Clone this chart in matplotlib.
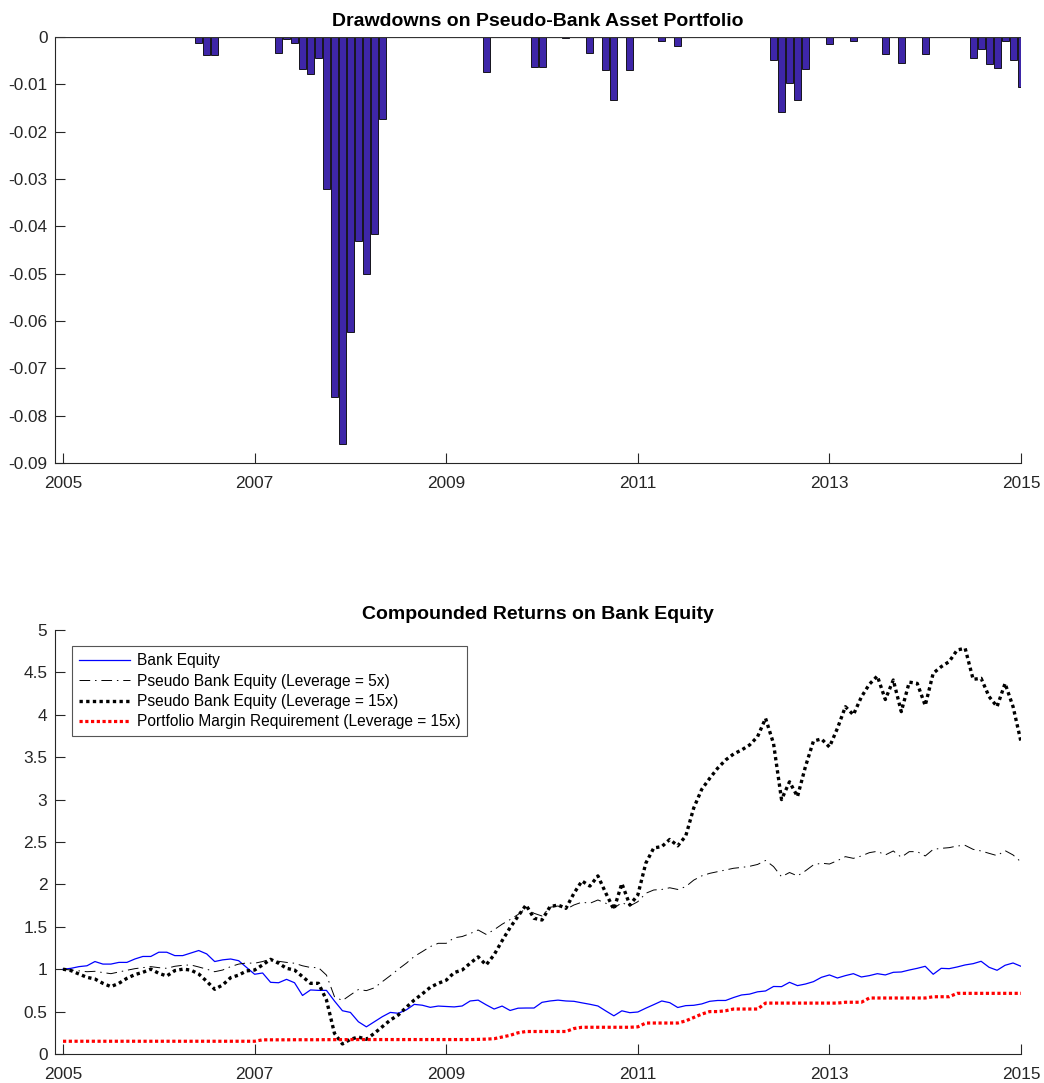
#!/usr/bin/env python3

import matplotlib

matplotlib.use("Agg")
import matplotlib.pyplot as plt
import numpy as np


# Monthly observations, Jan 2005 .. Jan 2015 (121 months)
START_YEAR = 2005

# Monthly drawdowns of the pseudo-bank asset portfolio (one row per year)
drawdown = [
    0, 0, 0, 0, 0, 0, 0, 0, 0, 0, 0, 0,
    0, 0, 0, 0, 0, -0.0013, -0.0037, -0.0037, 0, 0, 0, 0,
    0, 0, 0, -0.0034, -0.0004, -0.0013, -0.0068, -0.0079, -0.0044, -0.0322, -0.0760, -0.0860,
    -0.0623, -0.0430, -0.0501, -0.0417, -0.0173, 0, 0, 0, 0, 0, 0, 0,
    0, 0, 0, 0, 0, -0.0073, 0, 0, 0, 0, 0, -0.0063,
    -0.0063, 0, 0, -0.0002, 0, 0, -0.0034, 0, -0.0070, -0.0132, 0, -0.0070,
    0, 0, 0, -0.0008, 0, -0.0018, 0, 0, 0, 0, 0, 0,
    0, 0, 0, 0, 0, -0.0048, -0.0158, -0.0097, -0.0134, -0.0067, 0, 0,
    -0.0015, 0, 0, -0.0008, 0, 0, 0, -0.0035, 0, -0.0054, 0, 0,
    -0.0035, 0, 0, 0, 0, 0, -0.0045, -0.0026, -0.0058, -0.0065, -0.0008, -0.0048,
    -0.0106,
]

bank_equity = [
    1.00, 1.01, 1.03, 1.04, 1.09, 1.06, 1.06, 1.08, 1.08, 1.12, 1.15, 1.15,
    1.20, 1.20, 1.16, 1.16, 1.19, 1.22, 1.18, 1.09, 1.11, 1.12, 1.10, 1.02,
    0.94, 0.955, 0.845, 0.84, 0.88, 0.84, 0.69, 0.755, 0.75, 0.75, 0.625, 0.51,
    0.49, 0.38, 0.32, 0.38, 0.44, 0.49, 0.48, 0.52, 0.585, 0.575, 0.55, 0.565,
    0.56, 0.555, 0.566, 0.625, 0.635, 0.58, 0.53, 0.565, 0.513, 0.54, 0.542, 0.542,
    0.609, 0.625, 0.635, 0.625, 0.621, 0.603, 0.586, 0.566, 0.507, 0.45, 0.509, 0.487,
    0.495, 0.54, 0.582, 0.625, 0.605, 0.548, 0.57, 0.574, 0.59, 0.621, 0.631, 0.631,
    0.666, 0.696, 0.706, 0.733, 0.743, 0.796, 0.794, 0.845, 0.806, 0.825, 0.853, 0.904,
    0.932, 0.896, 0.924, 0.947, 0.908, 0.924, 0.947, 0.932, 0.963, 0.967, 0.99, 1.01,
    1.034, 0.94, 1.01, 1.006, 1.026, 1.05, 1.065, 1.093, 1.022, 0.987, 1.046, 1.073,
    1.034,
]

pseudo_lev5 = [
    1.00, 0.99, 0.98, 0.97, 0.975, 0.96, 0.947, 0.967, 0.987, 1.006, 1.018, 1.03,
    1.018, 1.01, 1.034, 1.046, 1.05, 1.026, 1.0, 0.97, 0.99, 1.03, 1.06, 1.073,
    1.07, 1.09, 1.12, 1.093, 1.08, 1.07, 1.04, 1.02, 1.018, 0.93, 0.676, 0.63,
    0.696, 0.76, 0.747, 0.78, 0.853, 0.924, 1.0, 1.07, 1.15, 1.207, 1.266, 1.305,
    1.305, 1.37, 1.385, 1.42, 1.462, 1.41, 1.465, 1.53, 1.585, 1.645, 1.718, 1.659,
    1.627, 1.73, 1.745, 1.706, 1.757, 1.79, 1.777, 1.816, 1.777, 1.718, 1.785, 1.745,
    1.796, 1.895, 1.934, 1.94, 1.96, 1.94, 1.973, 2.05, 2.1, 2.13, 2.15, 2.17,
    2.19, 2.2, 2.213, 2.235, 2.282, 2.21, 2.09, 2.14, 2.1, 2.16, 2.23, 2.25,
    2.24, 2.28, 2.327, 2.307, 2.335, 2.374, 2.39, 2.347, 2.394, 2.32, 2.386, 2.386,
    2.335, 2.413, 2.425, 2.433, 2.453, 2.46, 2.413, 2.394, 2.366, 2.339, 2.398, 2.347,
    2.264,
]

pseudo_lev15 = [
    1.00, 0.983, 0.943, 0.904, 0.884, 0.833, 0.794, 0.833, 0.892, 0.936, 0.963, 1.0,
    0.951, 0.92, 0.983, 1.0, 0.99, 0.943, 0.857, 0.763, 0.814, 0.9, 0.93, 0.98,
    0.99, 1.05, 1.116, 1.07, 1.01, 0.99, 0.912, 0.833, 0.833, 0.637, 0.244, 0.118,
    0.173, 0.2, 0.173, 0.244, 0.322, 0.4, 0.46, 0.55, 0.637, 0.708, 0.786, 0.833,
    0.87, 0.96, 0.99, 1.07, 1.145, 1.05, 1.17, 1.335, 1.49, 1.625, 1.757, 1.6,
    1.58, 1.737, 1.757, 1.718, 1.895, 2.04, 1.98, 2.1, 1.895, 1.706, 2.01, 1.757,
    1.875, 2.25, 2.43, 2.445, 2.53, 2.455, 2.57, 2.9, 3.12, 3.25, 3.37, 3.467,
    3.538, 3.585, 3.644, 3.742, 3.958, 3.66, 3.0, 3.21, 3.035, 3.39, 3.69, 3.715,
    3.62, 3.84, 4.095, 4.0, 4.21, 4.36, 4.457, 4.18, 4.41, 4.037, 4.385, 4.37,
    4.11, 4.49, 4.567, 4.627, 4.764, 4.784, 4.418, 4.43, 4.214, 4.096, 4.37, 4.096,
    3.68,
]

margin_req = [
    0.15, 0.15, 0.15, 0.15, 0.15, 0.15, 0.15, 0.15, 0.15, 0.15, 0.15, 0.15,
    0.15, 0.15, 0.15, 0.15, 0.15, 0.15, 0.15, 0.15, 0.15, 0.15, 0.15, 0.15,
    0.15, 0.167, 0.167, 0.167, 0.167, 0.168, 0.168, 0.168, 0.168, 0.169, 0.169, 0.169,
    0.17, 0.17, 0.17, 0.17, 0.17, 0.17, 0.17, 0.17, 0.17, 0.17, 0.17, 0.17,
    0.17, 0.17, 0.17, 0.17, 0.172, 0.175, 0.18, 0.20, 0.22, 0.25, 0.265, 0.265,
    0.265, 0.265, 0.265, 0.265, 0.30, 0.315, 0.315, 0.315, 0.315, 0.315, 0.315, 0.315,
    0.32, 0.365, 0.365, 0.365, 0.365, 0.365, 0.39, 0.43, 0.47, 0.50, 0.50, 0.51,
    0.53, 0.53, 0.53, 0.53, 0.60, 0.60, 0.60, 0.60, 0.60, 0.60, 0.60, 0.60,
    0.60, 0.60, 0.61, 0.61, 0.61, 0.66, 0.66, 0.66, 0.66, 0.66, 0.66, 0.66,
    0.66, 0.675, 0.675, 0.675, 0.715, 0.715, 0.715, 0.715, 0.715, 0.715, 0.715, 0.715,
    0.715,
]

series_labels = [
    "Bank Equity",
    "Pseudo Bank Equity (Leverage = 5x)",
    "Pseudo Bank Equity (Leverage = 15x)",
    "Portfolio Margin Requirement (Leverage = 15x)",
]

year_ticks = [2005, 2007, 2009, 2011, 2013, 2015]
drawdown_ticks = [0, -0.01, -0.02, -0.03, -0.04, -0.05, -0.06, -0.07, -0.08, -0.09]
equity_ticks = [0, 0.5, 1, 1.5, 2, 2.5, 3, 3.5, 4, 4.5, 5]

AXIS_COLOR = "#262626"
BAR_COLOR = "#3E26A8"

plt.rcParams["font.family"] = ["Liberation Sans", "DejaVu Sans"]
plt.rcParams["axes.unicode_minus"] = False


def style_axes(ax):
    for side in ("top", "right"):
        ax.spines[side].set_visible(False)
    for side in ("left", "bottom"):
        ax.spines[side].set_color(AXIS_COLOR)
        ax.spines[side].set_linewidth(0.8)
    ax.tick_params(direction="in", length=7.2, width=0.8, colors=AXIS_COLOR,
                   labelsize=12.4)
    ax.tick_params(axis="x", pad=9.5)
    ax.tick_params(axis="y", pad=5.5)
    ax.set_xticks(year_ticks)
    ax.set_xticklabels([str(y) for y in year_ticks])
    ax.set_xlim(START_YEAR - 1 / 12, 2015)


def fmt_tick(v):
    return f"{v:g}"


def plot_drawdowns(ax, dates):
    ax.bar(dates, drawdown, width=0.88 / 12, color=BAR_COLOR,
           edgecolor="black", linewidth=0.6, zorder=2)
    ax.axhline(0, color="#333333", linewidth=0.9, zorder=3)
    style_axes(ax)
    ax.set_ylim(-0.09, 0)
    ax.set_yticks(drawdown_ticks)
    ax.set_yticklabels([fmt_tick(v) for v in drawdown_ticks])
    ax.set_title("Drawdowns on Pseudo-Bank Asset Portfolio",
                 fontsize=14, fontweight="bold", pad=8)


def plot_equity(ax, dates):
    ax.plot(dates, bank_equity, color="blue", linewidth=0.9,
            label=series_labels[0])
    ax.plot(dates, pseudo_lev5, color="black", linewidth=0.7,
            linestyle=(0, (11, 5, 1.5, 5)), label=series_labels[1])
    ax.plot(dates, pseudo_lev15, color="black", linewidth=2.4,
            linestyle=(0, (1, 1)), label=series_labels[2])
    ax.plot(dates, margin_req, color="red", linewidth=2.3,
            linestyle=(0, (1, 0.8)), label=series_labels[3])
    style_axes(ax)
    ax.set_ylim(0, 5)
    ax.set_yticks(equity_ticks)
    ax.set_yticklabels([fmt_tick(v) for v in equity_ticks])
    ax.set_title("Compounded Returns on Bank Equity",
                 fontsize=14, fontweight="bold", pad=8)
    leg = ax.legend(
        loc="upper left", bbox_to_anchor=(0.0176, 0.962), borderaxespad=0,
        fontsize=11.2, fancybox=False, framealpha=1, edgecolor="#555555",
        handlelength=3.3, handletextpad=0.4, labelspacing=0.35,
        borderpad=0.45,
    )
    leg.get_frame().set_linewidth(0.8)


def main():
    dates = START_YEAR + np.arange(len(drawdown)) / 12.0

    fig = plt.figure(figsize=(10.44, 10.83), dpi=100)
    ax_top = fig.add_axes([0.0527, 0.5725, 0.9253, 0.3933])
    ax_bot = fig.add_axes([0.0527, 0.0268, 0.9253, 0.3915])

    plot_drawdowns(ax_top, dates)
    plot_equity(ax_bot, dates)

    fig.savefig("out.png", dpi=100, facecolor="white")
    plt.close(fig)


if __name__ == "__main__":
    main()
